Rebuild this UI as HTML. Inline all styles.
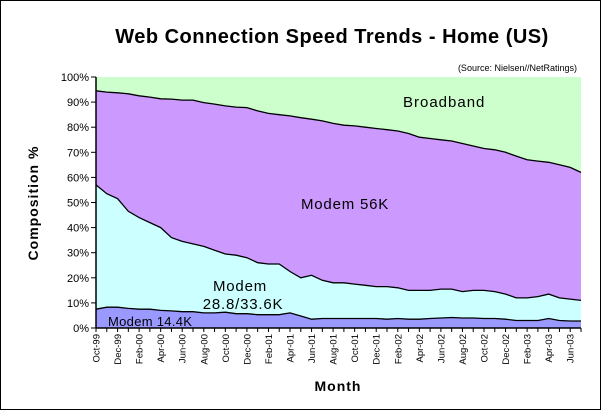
<!DOCTYPE html>
<html><head><style>
body{margin:0;background:#fff;}
svg{display:block;font-family:"Liberation Sans",sans-serif;}
</style></head><body>
<svg id="s" width="601" height="410" xmlns="http://www.w3.org/2000/svg">
<rect x="0.5" y="0.5" width="600" height="409" fill="#fff" stroke="#000"/>
<text x="332" y="43" font-size="20" font-weight="bold" text-anchor="middle" letter-spacing="0.5">Web Connection Speed Trends - Home (US)</text>
<text x="577" y="71" font-size="9" text-anchor="end">(Source: Nielsen//NetRatings)</text>
<text transform="translate(38,203) rotate(-90)" font-size="14" font-weight="bold" text-anchor="middle" letter-spacing="1">Composition %</text>
<text x="338" y="391" font-size="14" font-weight="bold" text-anchor="middle" letter-spacing="1">Month</text>
<g id="g"></g>
</svg>
<script>
var top_=[94.5,94,93.7,93.3,92.5,92,91.3,91.2,90.8,90.8,89.8,89.2,88.5,88,87.8,86.5,85.5,85,84.5,83.8,83.2,82.5,81.5,80.8,80.5,80,79.5,79,78.5,77.5,76,75.5,75,74.5,73.5,72.5,71.5,71,70,68.5,67,66.5,66,65,64,62];
var mid=[57,53.5,51.5,46.5,44,42,40,36,34.5,33.5,32.5,31,29.5,29,28,26,25.5,25.5,22.5,20,21,19,18,18,17.5,17,16.5,16.5,16,15,15,15,15.5,15.5,14.5,15,15,14.5,13.5,12,12,12.5,13.5,12,11.5,11];
var bot=[7.5,8.3,8.3,7.8,7.5,7.5,7,6.8,6.5,6.5,6,6,6.3,5.7,5.7,5.3,5.3,5.3,6,4.8,3.5,3.8,3.8,3.8,3.8,3.8,3.8,3.5,3.8,3.5,3.5,3.8,4,4.2,4,4,3.8,3.8,3.5,3,3,3,3.8,3,2.8,2.8];
var L=96,R=581,T=77,B=328,n=46,dx=(R-L)/(n-1);
function X(i){return L+i*dx}function Y(v){return B-(B-T)*v/100}
function line(a){return a.map((v,i)=>X(i).toFixed(1)+","+Y(v).toFixed(1)).join(" ")}
function poly(a,b){var p=line(a);var q=X(n-1)+","+B+" "+L+","+B;return p+" "+q}
var h='';
h+='<rect x="'+L+'" y="'+T+'" width="'+(R-L)+'" height="'+(B-T)+'" fill="#ccffcc"/>';
h+='<polygon points="'+poly(top_)+'" fill="#cc99ff"/>';
h+='<polygon points="'+poly(mid)+'" fill="#ccffff"/>';
h+='<polygon points="'+poly(bot)+'" fill="#9999ff"/>';
[top_,mid,bot].forEach(a=>h+='<polyline points="'+line(a)+'" fill="none" stroke="#000" stroke-width="1.3"/>');
h+='<line x1="'+L+'" y1="'+T+'" x2="'+L+'" y2="'+B+'" stroke="#000" stroke-width="1.5"/>';
h+='<line x1="'+L+'" y1="'+B+'" x2="'+R+'" y2="'+B+'" stroke="#000" stroke-width="1.5"/>';
for(var k=0;k<=10;k++){var y=Y(k*10);h+='<line x1="'+(L-5)+'" y1="'+y+'" x2="'+L+'" y2="'+y+'" stroke="#000"/>';h+='<text x="'+(L-7)+'" y="'+(y+4)+'" font-size="11" text-anchor="end">'+(k*10)+'%</text>';}
var mn=["Jan","Feb","Mar","Apr","May","Jun","Jul","Aug","Sep","Oct","Nov","Dec"];
for(var i=0;i<n;i++){var x=X(i);h+='<line x1="'+x+'" y1="'+B+'" x2="'+x+'" y2="'+(B+4)+'" stroke="#000"/>';
if(i%2==0&&i<45){var m=(9+i)%12,yr=(99+Math.floor((9+i)/12))%100;var lab=mn[m]+"-"+(yr<10?"0"+yr:yr);
h+='<text transform="translate('+(x+3.5)+','+(B+6)+') rotate(-90)" font-size="9.5" text-anchor="end">'+lab+'</text>';}}
h+='<text x="403" y="107" font-size="15" letter-spacing="1">Broadband</text>';
h+='<text x="301" y="209" font-size="15" letter-spacing="0.8">Modem 56K</text>';
h+='<text x="240" y="291" font-size="15" text-anchor="middle" letter-spacing="0.8">Modem</text>';
h+='<text x="243" y="309" font-size="15" text-anchor="middle" letter-spacing="0.8">28.8/33.6K</text>';
h+='<text x="108" y="326" font-size="13" letter-spacing="0.3">Modem 14.4K</text>';
document.getElementById('g').innerHTML=h;
</script>
</body></html>
